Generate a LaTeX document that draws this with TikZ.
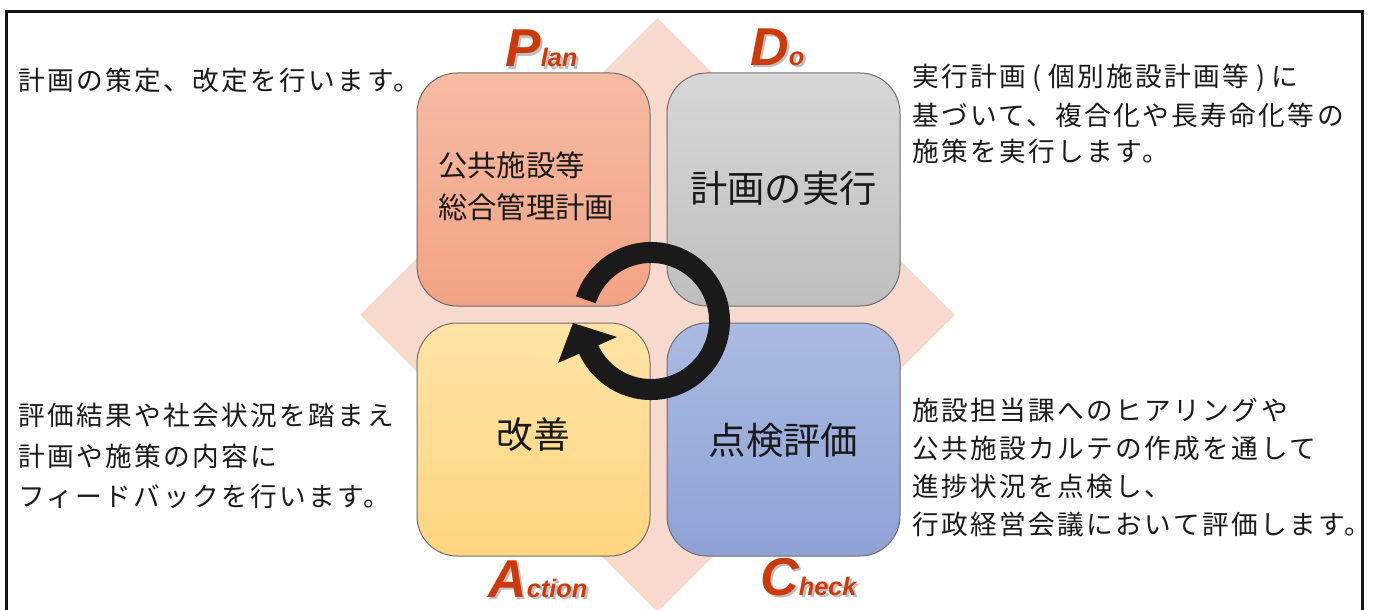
\documentclass[tikz,border=0pt]{standalone}
\usepackage{fontspec}
\setmainfont{Noto Sans CJK JP}
\newfontfamily\sidefont[LetterSpace=9]{Noto Sans CJK JP}
\newfontfamily\labfont{Liberation Sans}
\usetikzlibrary{arrows.meta}
\definecolor{diam}{HTML}{F8D9CE}
\definecolor{planT}{HTML}{F6BBA3}
\definecolor{planB}{HTML}{F3A384}
\definecolor{doT}{HTML}{D7D7D7}
\definecolor{doB}{HTML}{BFBFBF}
\definecolor{actT}{HTML}{FFE3A5}
\definecolor{actB}{HTML}{FFD680}
\definecolor{chkT}{HTML}{AABAE2}
\definecolor{chkB}{HTML}{8EA2D5}
\definecolor{boxline}{HTML}{6E6E6E}
\definecolor{labred}{HTML}{CC3A0C}
\definecolor{ink}{HTML}{1A1A1A}
\tikzset{
  quad/.style={draw=boxline, line width=0.75pt, rounded corners=30pt,
    minimum width=174.75pt, minimum height=174.75pt, inner sep=0pt},
  side/.style={anchor=west, inner sep=0pt, text=ink, font=\sidefont\fontsize{20}{24}\selectfont},
  inbox/.style={inner sep=0pt, text=ink},
  lab/.style={anchor=base west, inner sep=0pt, text=labred, font=\labfont\bfseries\itshape},
  labshadow/.style={anchor=base west, inner sep=0pt, text=black, opacity=0.25, font=\labfont\bfseries\itshape},
}
\newcommand{\labbig}[1]{{\fontsize{40}{40}\selectfont #1}}
\newcommand{\labsml}[1]{{\fontsize{19}{19}\selectfont #1}}
\begin{document}
\begin{tikzpicture}[x=0.75pt,y=-0.75pt]
\useasboundingbox (0,0) rectangle (1378,610);
\clip (0,0) rectangle (1378,610);
% diamond
\fill[diam] (657.5,18) -- (955,315) -- (657.5,612) -- (360,315) -- cycle;
% quadrants
\node[quad, top color=planT, bottom color=planB] (planbox) at (533.5,189.5) {};
\node[quad, top color=doT, bottom color=doB] (dobox) at (783.5,189.5) {};
\node[quad, top color=actT, bottom color=actB] (actbox) at (533.5,439.5) {};
\node[quad, top color=chkT, bottom color=chkB] (chkbox) at (783.5,439.5) {};
% box texts
\node[inbox, anchor=west, font=\fontsize{22}{22}\selectfont] (p1) at (438,165) {公共施設等};
\node[inbox, anchor=west, font=\fontsize{22}{22}\selectfont] (p2) at (438,207) {総合管理計画};
\node[inbox, font=\fontsize{28}{28}\selectfont] (d1) at (783.5,188) {計画の実行};
\node[inbox, font=\fontsize{27.5}{28}\selectfont] (a1) at (533.5,435) {改善};
\node[inbox, font=\fontsize{28}{28}\selectfont] (c1) at (783.5,440) {点検評価};
% cycle arrow
\begin{scope}[shift={(651,321)}, x=0.75pt, y=0.75pt]
\draw[ink, line width=15.75pt] (162:68.5) arc[start angle=162, end angle=-157, radius=68.5];
\end{scope}
\fill[ink] (573,323) -- (617,337) -- (558,363) -- cycle;
% labels
\node[labshadow] (plans) at (507.5,69.5) {\labbig{P}\labsml{lan}};
\node[lab] (plan) at (505,67) {\labbig{P}\labsml{lan}};
\node[labshadow] (dos) at (752.5,67.5) {\labbig{D}\labsml{o}};
\node[lab] (do) at (750,65) {\labbig{D}\labsml{o}};
\node[labshadow] (acts) at (490.5,599.5) {\labbig{A}\labsml{ction}};
\node[lab] (act) at (488,597) {\labbig{A}\labsml{ction}};
\node[labshadow] (chks) at (762.5,597.5) {\labbig{C}\labsml{heck}};
\node[lab] (chk) at (760,595) {\labbig{C}\labsml{heck}};
% frame
\draw[black!92, line width=2.25pt] (6,640) -- (6,12) -- (1362,12) -- (1362,640);
% side texts
\node[side] (tl1) at (18,80) {計画の策定、改定を行います。};
\node[side] (tr1) at (912,78) {実行計画\kern5pt(\kern5pt個別施設計画等\kern5pt)\kern5pt に};
\node[side] (tr2) at (912,115) {基づいて、複合化や長寿命化等の};
\node[side] (tr3) at (912,151) {施策を実行します。};
\node[side] (bl1) at (18,415) {評価結果や社会状況を踏まえ};
\node[side] (bl2) at (18,456) {計画や施策の内容に};
\node[side] (bl3) at (18,496) {フィードバックを行います。};
\node[side] (br1) at (912,410) {施設担当課へのヒアリングや};
\node[side] (br2) at (912,448) {公共施設カルテの作成を通して};
\node[side] (br3) at (912,486) {進捗状況を点検し、};
\node[side] (br4) at (912,524) {行政経営会議において評価します。};
\end{tikzpicture}
\end{document}
